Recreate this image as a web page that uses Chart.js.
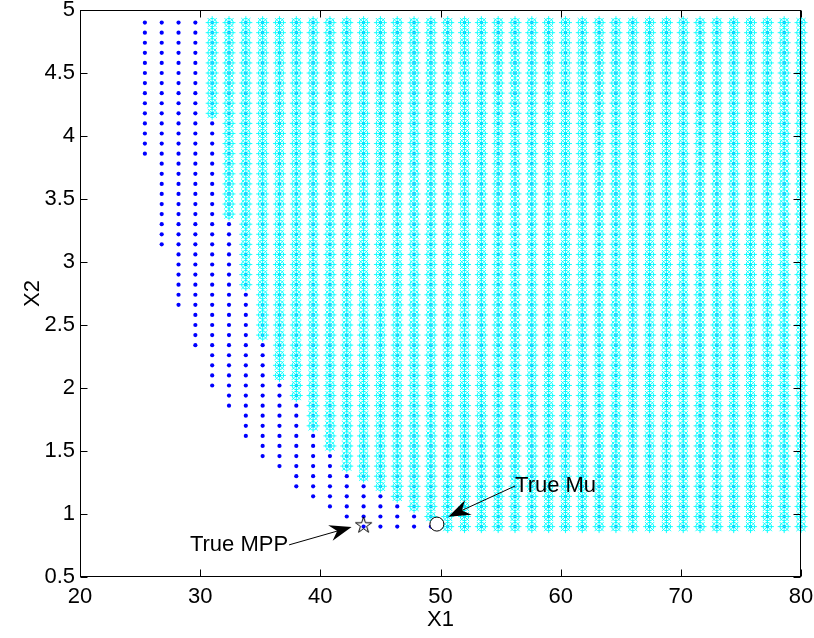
<!DOCTYPE html>
<html>
<head>
<meta charset="utf-8">
<title>X1 / X2 samples</title>
<script src="https://cdn.jsdelivr.net/npm/chart.js@4.4.1/dist/chart.umd.min.js"></script>
<style>
  html, body { margin: 0; padding: 0; background: #fff; }
  canvas { display: block; }
</style>
</head>
<body>
<canvas id="plot" width="814" height="638"></canvas>
<script>
// Sample grid: X1 columns and X2 rows
const colX = [25.4, 26.8, 28.2, 29.6, 31.0, 32.4, 33.8, 35.2, 36.6, 38.0,
              39.4, 40.8, 42.2, 43.6, 45.0, 46.4, 47.8, 49.2, 50.6, 52.0,
              53.4, 54.8, 56.2, 57.6, 59.0, 60.4, 61.8, 63.2, 64.6, 66.0,
              67.4, 68.8, 70.2, 71.6, 73.0, 74.4, 75.8, 77.2, 78.6, 80.0];
const rowY = [0.90, 0.98, 1.06, 1.14, 1.22, 1.30, 1.38, 1.46, 1.54, 1.62,
              1.70, 1.78, 1.86, 1.94, 2.02, 2.10, 2.18, 2.26, 2.34, 2.42,
              2.50, 2.58, 2.66, 2.74, 2.82, 2.90, 2.98, 3.06, 3.14, 3.22,
              3.30, 3.38, 3.46, 3.54, 3.62, 3.70, 3.78, 3.86, 3.94, 4.02,
              4.10, 4.18, 4.26, 4.34, 4.42, 4.50, 4.58, 4.66, 4.74, 4.82, 4.90];

// Lowest sampled X2 in each column (blue dots from here up)
const lowY = [3.86, 3.14, 2.66, 2.34, 2.02, 1.86, 1.62, 1.46, 1.38, 1.22,
              1.14, 1.06, 0.98, 0.90, 0.90, 0.90, 0.90, 0.90, 0.90, 0.90,
              0.90, 0.90, 0.90, 0.90, 0.90, 0.90, 0.90, 0.90, 0.90, 0.90,
              0.90, 0.90, 0.90, 0.90, 0.90, 0.90, 0.90, 0.90, 0.90, 0.90];
// Lowest X2 marked cyan in each column (null: none in that column)
const cyanY = [null, null, null, null, 4.18, 3.38, 2.82, 2.42, 2.10, 1.94,
               1.70, 1.54, 1.38, 1.30, 1.22, 1.14, 1.06, 0.98, 0.90, 0.90,
               0.90, 0.90, 0.90, 0.90, 0.90, 0.90, 0.90, 0.90, 0.90, 0.90,
               0.90, 0.90, 0.90, 0.90, 0.90, 0.90, 0.90, 0.90, 0.90, 0.90];

const mppPoint = [{ x: 43.6, y: 0.91 }];
const muPoint = [{ x: 49.7, y: 0.92 }];

const xTicks = [20, 30, 40, 50, 60, 70, 80];
const yTicks = [0.5, 1, 1.5, 2, 2.5, 3, 3.5, 4, 4.5, 5];

const FONT = '"Liberation Sans", Arial, Helvetica, sans-serif';
const FSIZE = 22;

// split the grid into the two marker sets; blue dots under cyan ones get a flag
const bluePts = [];
const cyanPts = [];
colX.forEach((x, k) => {
  rowY.forEach((y) => {
    const isCyan = cyanY[k] !== null && y >= cyanY[k] - 1e-9;
    if (y >= lowY[k] - 1e-9) bluePts.push({ x, y, under: isCyan });
    if (isCyan) cyanPts.push({ x, y });
  });
});

// five-pointed star marker, outline only
function pentagram(r) {
  const s = Math.ceil(r * 2 + 4);
  const c = document.createElement('canvas');
  c.width = s;
  c.height = s;
  const g = c.getContext('2d');
  g.translate(s / 2, s / 2);
  g.beginPath();
  for (let i = 0; i < 10; i++) {
    const rr = i % 2 ? r * 0.382 : r;
    const a = -Math.PI / 2 + i * Math.PI / 5;
    g.lineTo(rr * Math.cos(a), rr * Math.sin(a));
  }
  g.closePath();
  g.strokeStyle = '#000';
  g.lineWidth = 1;
  g.stroke();
  return c;
}

// text arrows, in data units
const notes = [
  { text: 'True MPP', tail: { x: 37.4, y: 0.755 }, head: { x: 42.6, y: 0.897 }, align: 'right' },
  { text: 'True Mu', tail: { x: 56.2, y: 1.222 }, head: { x: 50.65, y: 0.979 }, align: 'left' }
];

function drawArrow(ctx, x0, y0, x1, y1) {
  const len = Math.hypot(x1 - x0, y1 - y0);
  const ux = (x1 - x0) / len, uy = (y1 - y0) / len;
  const nx = -uy, ny = ux;
  const L = 22, W = 8, notch = 0.68 * L;
  ctx.beginPath();
  ctx.moveTo(x0, y0);
  ctx.lineTo(x1 - ux * notch, y1 - uy * notch);
  ctx.stroke();
  ctx.beginPath();
  ctx.moveTo(x1, y1);
  ctx.lineTo(x1 - ux * L + nx * W, y1 - uy * L + ny * W);
  ctx.lineTo(x1 - ux * notch, y1 - uy * notch);
  ctx.lineTo(x1 - ux * L - nx * W, y1 - uy * L - ny * W);
  ctx.closePath();
  ctx.fill();
}

// axes box with inward ticks, plus the annotations
const frame = {
  id: 'frame',
  afterDatasetsDraw(chart) {
    const { ctx, chartArea: a, scales: { x, y } } = chart;
    const L = Math.round(a.left) + 0.5, R = Math.round(a.right) - 0.5;
    const T = Math.round(a.top) + 0.5, B = Math.round(a.bottom) - 0.5;
    const tick = 7;
    ctx.save();
    ctx.strokeStyle = '#000';
    ctx.fillStyle = '#000';
    ctx.lineWidth = 1;
    ctx.strokeRect(L, T, R - L, B - T);
    ctx.beginPath();
    xTicks.forEach((v) => {
      const px = Math.round(x.getPixelForValue(v)) + 0.5;
      ctx.moveTo(px, B); ctx.lineTo(px, B - tick);
      ctx.moveTo(px, T); ctx.lineTo(px, T + tick);
    });
    yTicks.forEach((v) => {
      const py = Math.round(y.getPixelForValue(v)) + 0.5;
      ctx.moveTo(L, py); ctx.lineTo(L + tick, py);
      ctx.moveTo(R, py); ctx.lineTo(R - tick, py);
    });
    ctx.stroke();

    ctx.font = FSIZE + 'px ' + FONT;
    ctx.textBaseline = 'middle';
    notes.forEach((n) => {
      const tx = x.getPixelForValue(n.tail.x), ty = y.getPixelForValue(n.tail.y);
      const hx = x.getPixelForValue(n.head.x), hy = y.getPixelForValue(n.head.y);
      drawArrow(ctx, tx, ty, hx, hy);
      ctx.textAlign = n.align;
      ctx.fillText(n.text, n.align === 'right' ? tx - 1 : tx, ty);
    });
    ctx.restore();
  }
};

Chart.defaults.font.family = FONT;
Chart.defaults.font.size = FSIZE;
Chart.defaults.color = '#000';

new Chart(document.getElementById('plot').getContext('2d'), {
  type: 'scatter',
  data: {
    datasets: [
      {
        label: 'MPP',
        data: mppPoint,
        pointStyle: pentagram(8.5),
        pointRadius: 8,
        order: 0,
        clip: false
      },
      {
        label: 'Mu',
        data: muPoint,
        pointStyle: 'circle',
        pointRadius: 7,
        borderWidth: 1,
        borderColor: '#000',
        backgroundColor: '#fff',
        order: 1,
        clip: false
      },
      {
        label: 'cyan star',
        data: cyanPts,
        pointStyle: 'star',
        pointRadius: 6.5,
        borderWidth: 1,
        borderColor: 'rgba(0,255,255,0.9)',
        backgroundColor: '#00ffff',
        order: 2,
        clip: false
      },
      {
        label: 'cyan circle',
        data: cyanPts,
        pointStyle: 'circle',
        pointRadius: 4.2,
        borderWidth: 1,
        borderColor: '#00ffff',
        backgroundColor: 'rgba(0,0,0,0)',
        order: 3,
        clip: false
      },
      {
        label: 'samples',
        data: bluePts,
        pointStyle: 'circle',
        pointRadius: (c) => (c.raw && c.raw.under ? 1.6 : 2.1),
        borderWidth: 0,
        backgroundColor: '#0000ff',
        order: 4,
        clip: false
      }
    ]
  },
  options: {
    responsive: false,
    animation: false,
    devicePixelRatio: 1,
    events: [],
    layout: { padding: { top: 10, right: 13, left: 0, bottom: 0 } },
    plugins: { legend: { display: false }, tooltip: { enabled: false } },
    scales: {
      x: {
        type: 'linear',
        min: 20,
        max: 80,
        grid: { display: false, drawTicks: false },
        border: { display: false },
        ticks: { stepSize: 10, padding: 7, maxRotation: 0 },
        title: { display: true, text: 'X1', padding: { top: 0, bottom: 5 } },
        afterFit(s) {
          s.height = 61;
          s.paddingLeft = 0;
          s.paddingRight = 0;
        }
      },
      y: {
        type: 'linear',
        min: 0.5,
        max: 5,
        grid: { display: false, drawTicks: false },
        border: { display: false },
        ticks: { stepSize: 0.5, padding: 5, callback: (v) => String(v) },
        title: { display: true, text: 'X2', padding: { top: 20, bottom: 0 } },
        afterFit(s) {
          s.width = 80;
          s.paddingTop = 0;
          s.paddingBottom = 0;
        }
      }
    }
  },
  plugins: [frame]
});
</script>
</body>
</html>
